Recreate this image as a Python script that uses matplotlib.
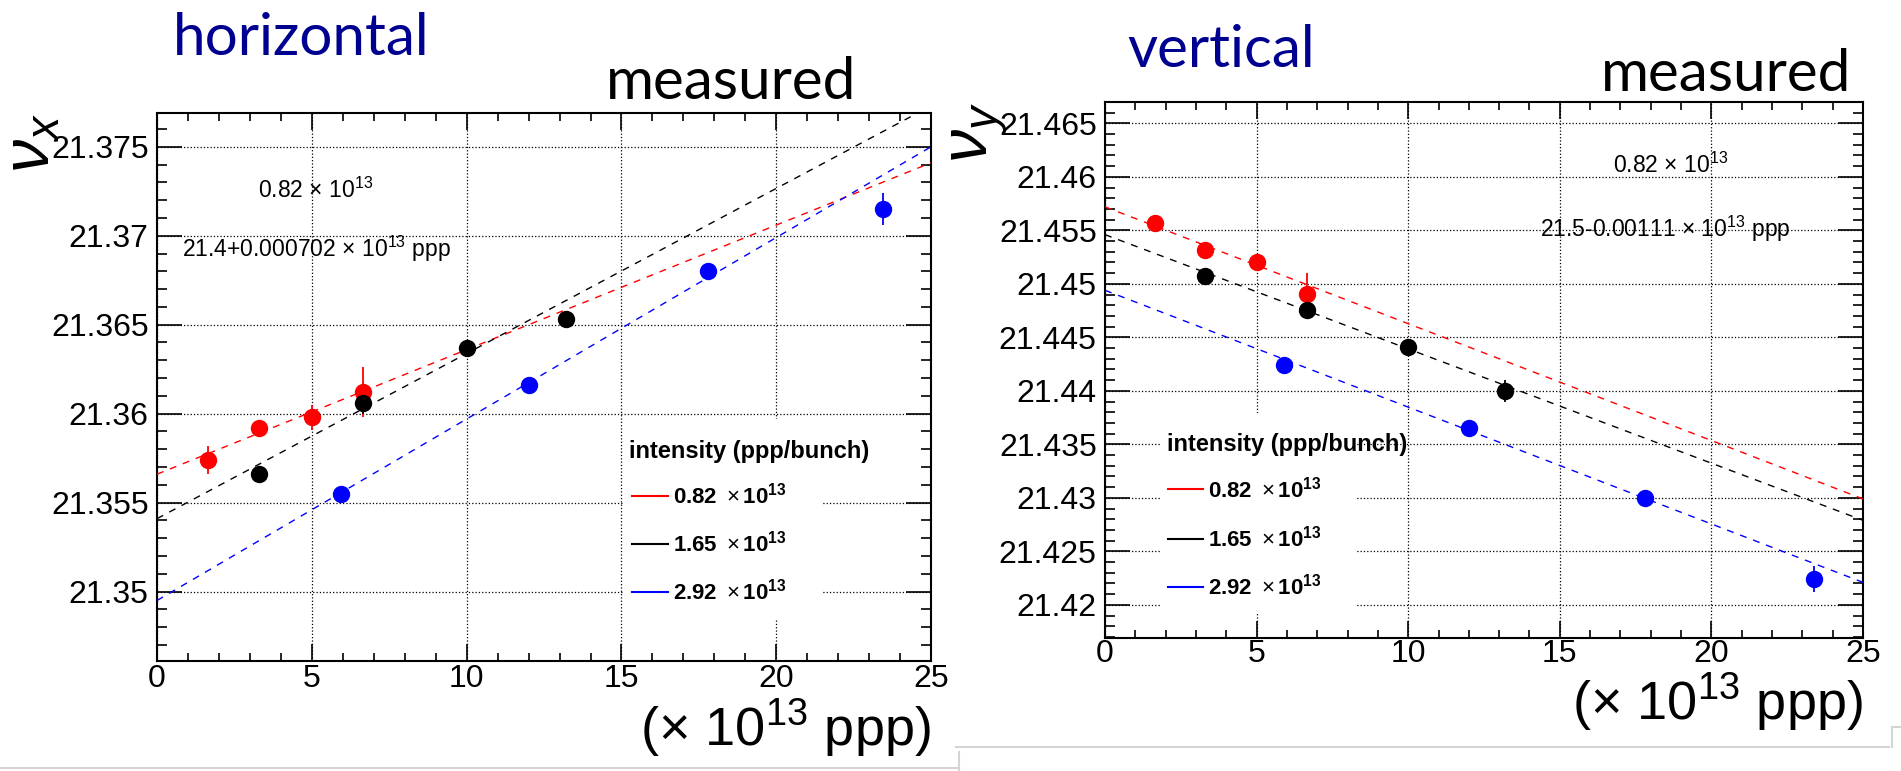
import matplotlib

matplotlib.use("Agg")
import matplotlib.pyplot as plt
from matplotlib.lines import Line2D
from matplotlib.patches import Rectangle
from matplotlib.ticker import FuncFormatter, MultipleLocator

# ---- data ----
# horizontal tune vs intensity, one set per bunch intensity
h_red_x = [1.65, 3.3, 5.0, 6.65]
h_red_y = [21.3574, 21.3592, 21.3598, 21.3612]
h_red_err = [0.0008, 0.0004, 0.0007, 0.0014]
h_black_x = [3.3, 6.65, 10.0, 13.2]
h_black_y = [21.3566, 21.3606, 21.3637, 21.3653]
h_black_err = [0.0003, 0.0006, 0.0003, 0.0003]
h_blue_x = [5.95, 12.0, 17.8, 23.45]
h_blue_y = [21.3555, 21.3616, 21.3680, 21.3715]
h_blue_err = [0.0003, 0.0003, 0.0003, 0.0009]

# vertical tune
v_red_x = [1.65, 3.3, 5.0, 6.65]
v_red_y = [21.4557, 21.4532, 21.4520, 21.4491]
v_red_err = [0.0003, 0.0003, 0.0003, 0.0019]
v_black_x = [3.3, 6.65, 10.0, 13.2]
v_black_y = [21.4507, 21.4476, 21.4441, 21.4400]
v_black_err = [0.0003, 0.0003, 0.0003, 0.0010]
v_blue_x = [5.9, 12.0, 17.8, 23.4]
v_blue_y = [21.4424, 21.4365, 21.4300, 21.4224]
v_blue_err = [0.0003, 0.0003, 0.0003, 0.0012]

# linear fits: value at start and end of the fit range
fit_range = [0, 25]
h_fit_red = [21.3566, 21.3741]
h_fit_black = [21.3541, 21.3773]
h_fit_blue = [21.3495, 21.3750]
v_fit_red = [21.4572, 21.4299]
v_fit_black = [21.4546, 21.4279]
v_fit_blue = [21.4494, 21.4221]

series_colors = ["#ff0000", "#000000", "#0000ff"]
legend_labels = [
    r"$\mathbf{0.82}\ \times\mathbf{10}^{\mathbf{13}}$",
    r"$\mathbf{1.65}\ \times\mathbf{10}^{\mathbf{13}}$",
    r"$\mathbf{2.92}\ \times\mathbf{10}^{\mathbf{13}}$",
]
legend_title = "intensity (ppp/bunch)"
h_fit_text = r"21.4+0.000702 $\times$ 10$^{13}$ ppp"
v_fit_text = r"21.5-0.00111 $\times$ 10$^{13}$ ppp"
fit_intensity_text = r"0.82 $\times$ 10$^{13}$"
x_title = r"($\times$ 10$^{13}$ ppp)"

plt.rcParams["font.family"] = ["Liberation Sans", "DejaVu Sans"]
plt.rcParams["mathtext.fontset"] = "custom"
plt.rcParams["mathtext.rm"] = "Liberation Sans"
plt.rcParams["mathtext.it"] = "Liberation Sans:italic"
plt.rcParams["mathtext.bf"] = "Liberation Sans:bold"

NAVY = "#000090"


def root_style(ax, ylim, xpad):
    ax.set_xlim(0, 25)
    ax.set_ylim(*ylim)
    ax.xaxis.set_major_locator(MultipleLocator(5))
    ax.xaxis.set_minor_locator(MultipleLocator(1))
    ax.yaxis.set_major_locator(MultipleLocator(0.005))
    ax.yaxis.set_minor_locator(MultipleLocator(0.001))
    ax.yaxis.set_major_formatter(
        FuncFormatter(lambda v, p: ("%.3f" % v).rstrip("0").rstrip("."))
    )
    ax.tick_params(which="both", direction="in", top=True, right=True,
                   width=1.2, labelsize=23)
    ax.tick_params(axis="y", which="major", length=18, pad=6)
    ax.tick_params(axis="y", which="minor", length=7)
    ax.tick_params(axis="x", which="major", length=12, pad=xpad)
    ax.tick_params(axis="x", which="minor", length=6)
    for s in ax.spines.values():
        s.set_linewidth(1.5)
    ax.set_axisbelow(True)
    ax.grid(True, which="major", ls=":", color="black", lw=0.9)


def draw_series(ax, xs, ys, errs, fits):
    for x, y, e, f, c in zip(xs, ys, errs, fits, series_colors):
        ax.plot(fit_range, f, ls=(0, (5, 5)), lw=1.0, color=c, zorder=3)
        ax.errorbar(x, y, yerr=e, fmt="o", color=c, ms=11.5, elinewidth=1.3,
                    capsize=0, zorder=4)


def draw_legend(ax, box, title_xy, line_x, label_x, rows_y):
    x0, x1, y0, y1 = box
    ax.add_patch(Rectangle((x0, y0), x1 - x0, y1 - y0, facecolor="white",
                           edgecolor="none", zorder=2.5))
    ax.text(title_xy[0], title_xy[1], legend_title, fontsize=17,
            fontweight="bold", va="baseline", zorder=3)
    for y, lab, c in zip(rows_y, legend_labels, series_colors):
        ax.plot(line_x, [y, y], color=c, lw=1.5, zorder=3)
        ax.text(label_x, y, lab, fontsize=16, va="center", zorder=3)


fig = plt.figure(figsize=(19.01, 7.71), dpi=100)
ax_h = fig.add_axes([0.0826, 0.1427, 0.4072, 0.7108])
ax_v = fig.add_axes([0.5813, 0.1725, 0.3987, 0.6952])

# horizontal
root_style(ax_h, (21.3461, 21.3769), 2)
draw_series(ax_h, [h_red_x, h_black_x, h_blue_x],
            [h_red_y, h_black_y, h_blue_y],
            [h_red_err, h_black_err, h_blue_err],
            [h_fit_red, h_fit_black, h_fit_blue])
draw_legend(ax_h, (15.05, 21.5, 21.3484, 21.3597), (15.25, 21.3575),
            [15.35, 16.5], 16.67, [21.3554, 21.3527, 21.3500])
ax_h.text(3.26, 21.3721, fit_intensity_text, fontsize=16.5, va="baseline")
ax_h.text(0.8, 21.3688, h_fit_text, fontsize=16.5, va="baseline")
ax_h.set_ylabel(r"$\nu_{x}$", fontsize=48, loc="top", rotation=90)
ax_h.yaxis.set_label_coords(-0.121, 1.0)
ax_h.set_xlabel(x_title, fontsize=39, loc="right", labelpad=2)

# vertical
root_style(ax_v, (21.4169, 21.4670), 0.5)
draw_series(ax_v, [v_red_x, v_black_x, v_blue_x],
            [v_red_y, v_black_y, v_blue_y],
            [v_red_err, v_black_err, v_blue_err],
            [v_fit_red, v_fit_black, v_fit_blue])
draw_legend(ax_v, (1.8, 8.3, 21.4191, 21.4379), (2.05, 21.4344),
            [2.08, 3.24], 3.4, [21.4308, 21.4262, 21.4217])
ax_v.text(16.77, 21.4604, fit_intensity_text, fontsize=16.5, va="baseline")
ax_v.text(14.36, 21.4544, v_fit_text, fontsize=16.5, va="baseline")
ax_v.set_ylabel(r"$\nu_{y}$", fontsize=48, loc="top", rotation=90)
ax_v.yaxis.set_label_coords(-0.125, 1.0)
ax_v.set_xlabel(x_title, fontsize=39, loc="right", labelpad=2)

# slide headings
W, H = 1901, 771
fig.text(173 / W, 1 - 55 / H, "horizontal", fontfamily="Lato", fontsize=42,
         color=NAVY, va="baseline")
fig.text(606 / W, 1 - 99 / H, "measured", fontfamily="Lato", fontsize=42,
         va="baseline")
fig.text(1127 / W, 1 - 67 / H, "vertical", fontfamily="Lato", fontsize=42,
         color=NAVY, va="baseline")
fig.text(1601 / W, 1 - 91 / H, "measured", fontfamily="Lato", fontsize=42,
         va="baseline")

# faint picture borders from the slide
for xs, ys in [([0, 958], [768, 768]), ([956, 1889], [747, 747]),
               ([959, 959], [752, 771]), ([1892, 1892], [727, 747]),
               ([1892, 1901], [727, 727])]:
    fig.add_artist(Line2D([x / W for x in xs], [1 - y / H for y in ys],
                          color="#d4d4d4", lw=1.5))

fig.savefig("out.png", dpi=100)
